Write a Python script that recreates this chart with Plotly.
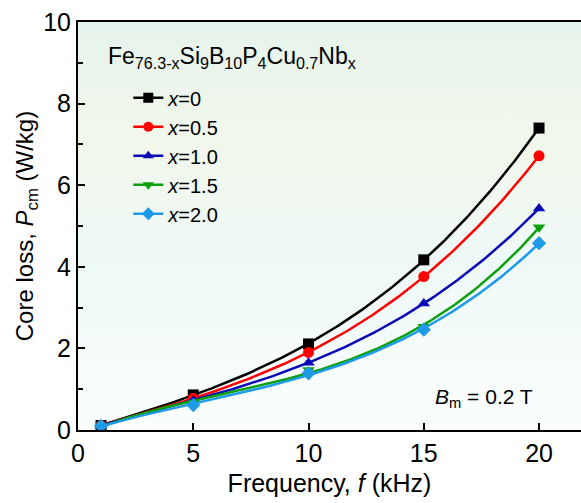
import numpy as np
import plotly.graph_objects as go

# ─── Data ────────────────────────────────────────────────────────────────────
FREQ_KHZ = [1, 5, 10, 15, 20]

LOSS_X0 = [0.11, 0.86, 2.11, 4.17, 7.40]
LOSS_X05 = [0.11, 0.78, 1.90, 3.76, 6.72]
LOSS_X10 = [0.11, 0.72, 1.65, 3.10, 5.43]
LOSS_X15 = [0.10, 0.66, 1.47, 2.53, 4.97]
LOSS_X20 = [0.10, 0.61, 1.39, 2.46, 4.58]

SERIES_NAMES = ["<i>x</i>=0", "<i>x</i>=0.5", "<i>x</i>=1.0", "<i>x</i>=1.5", "<i>x</i>=2.0"]

# ─── Styles ──────────────────────────────────────────────────────────────────
COLORS = ["#000000", "#ff0000", "#0a0ab4", "#0ca00c", "#1e9be8"]
SYMBOLS = ["square", "circle", "triangle-up", "triangle-down", "diamond"]
FONT = "Liberation Sans, Arial, sans-serif"
X_MAX = 21.82

series = [LOSS_X0, LOSS_X05, LOSS_X10, LOSS_X15, LOSS_X20]

fig = go.Figure()

# gradient plot background
fig.add_trace(go.Scatter(
    x=[0, X_MAX, X_MAX, 0, 0],
    y=[0, 0, 10, 10, 0],
    mode="lines",
    line=dict(width=0),
    fill="toself",
    fillgradient=dict(
        type="vertical",
        colorscale=[[0, "#fcfefe"], [0.4, "#eef9f8"], [0.7, "#f2f7eb"], [1, "#e6f3ec"]],
    ),
    hoverinfo="skip",
    showlegend=False,
))

f_fit = np.linspace(FREQ_KHZ[0], FREQ_KHZ[-1], 200)
for name, vals, color, sym in zip(SERIES_NAMES, series, COLORS, SYMBOLS):
    # polynomial fit curve through the measured points
    coef = np.polyfit(FREQ_KHZ, vals, 3)
    fig.add_trace(go.Scatter(
        x=f_fit, y=np.polyval(coef, f_fit),
        mode="lines",
        line=dict(color=color, width=2.5),
        showlegend=False,
        hoverinfo="skip",
    ))
    fig.add_trace(go.Scatter(
        x=FREQ_KHZ, y=vals,
        mode="markers",
        marker=dict(color=color, symbol=sym, size=11),
        showlegend=False,
    ))
    # legend entry
    fig.add_trace(go.Scatter(
        x=[None], y=[None],
        mode="lines+markers",
        name=name,
        line=dict(color=color, width=2.5),
        marker=dict(color=color, symbol=sym, size=10),
    ))

# alloy formula above the legend
fig.add_annotation(
    x=0.056, y=0.912, xref="paper", yref="paper",
    xanchor="left", yanchor="middle",
    text="Fe<sub>76.3-x</sub>Si<sub>9</sub>B<sub>10</sub>P<sub>4</sub>Cu<sub>0.7</sub>Nb<sub>x</sub>",
    showarrow=False,
    font=dict(size=23, color="black", family=FONT),
)

fig.add_annotation(
    x=0.908, y=0.078, xref="paper", yref="paper",
    xanchor="right", yanchor="middle",
    text="<i>B</i><sub>m</sub> = 0.2 T",
    showarrow=False,
    font=dict(size=21, color="black", family=FONT),
)

fig.update_layout(
    width=581,
    height=503,
    margin=dict(l=78, r=0, t=22, b=73),
    paper_bgcolor="white",
    plot_bgcolor="white",
    font=dict(family=FONT, color="black", size=24),
    xaxis=dict(
        range=[0, X_MAX],
        tickvals=[0, 5, 10, 15, 20],
        ticks="inside",
        ticklen=7,
        tickwidth=1.5,
        tickcolor="black",
        showline=True,
        linecolor="black",
        linewidth=2,
        mirror=True,
        showgrid=False,
        zeroline=False,
        automargin=False,
        tickfont=dict(size=25),
        title=dict(text="Frequency, <i>f</i> (kHz)", font=dict(size=25), standoff=8),
    ),
    yaxis=dict(
        range=[0, 10],
        tickvals=[0, 2, 4, 6, 8, 10],
        ticks="inside",
        ticklen=7,
        tickwidth=1.5,
        tickcolor="black",
        minor=dict(dtick=1, ticks="inside", ticklen=5, tickwidth=1.5, tickcolor="black"),
        showline=True,
        linecolor="black",
        linewidth=2,
        showgrid=False,
        zeroline=False,
        automargin=False,
        tickfont=dict(size=25),
        title=dict(text="Core loss, <i>P</i><sub>cm</sub> (W/kg)", font=dict(size=24), standoff=3),
    ),
    legend=dict(
        x=0.1, y=0.862, xanchor="left", yanchor="top",
        bgcolor="rgba(0,0,0,0)",
        font=dict(size=20, family=FONT),
        tracegroupgap=0,
    ),
)

fig.write_html(
    "out.html",
    config={"displayModeBar": False},
    post_script="document.body.style.margin='0';document.body.style.overflow='hidden';",
)
